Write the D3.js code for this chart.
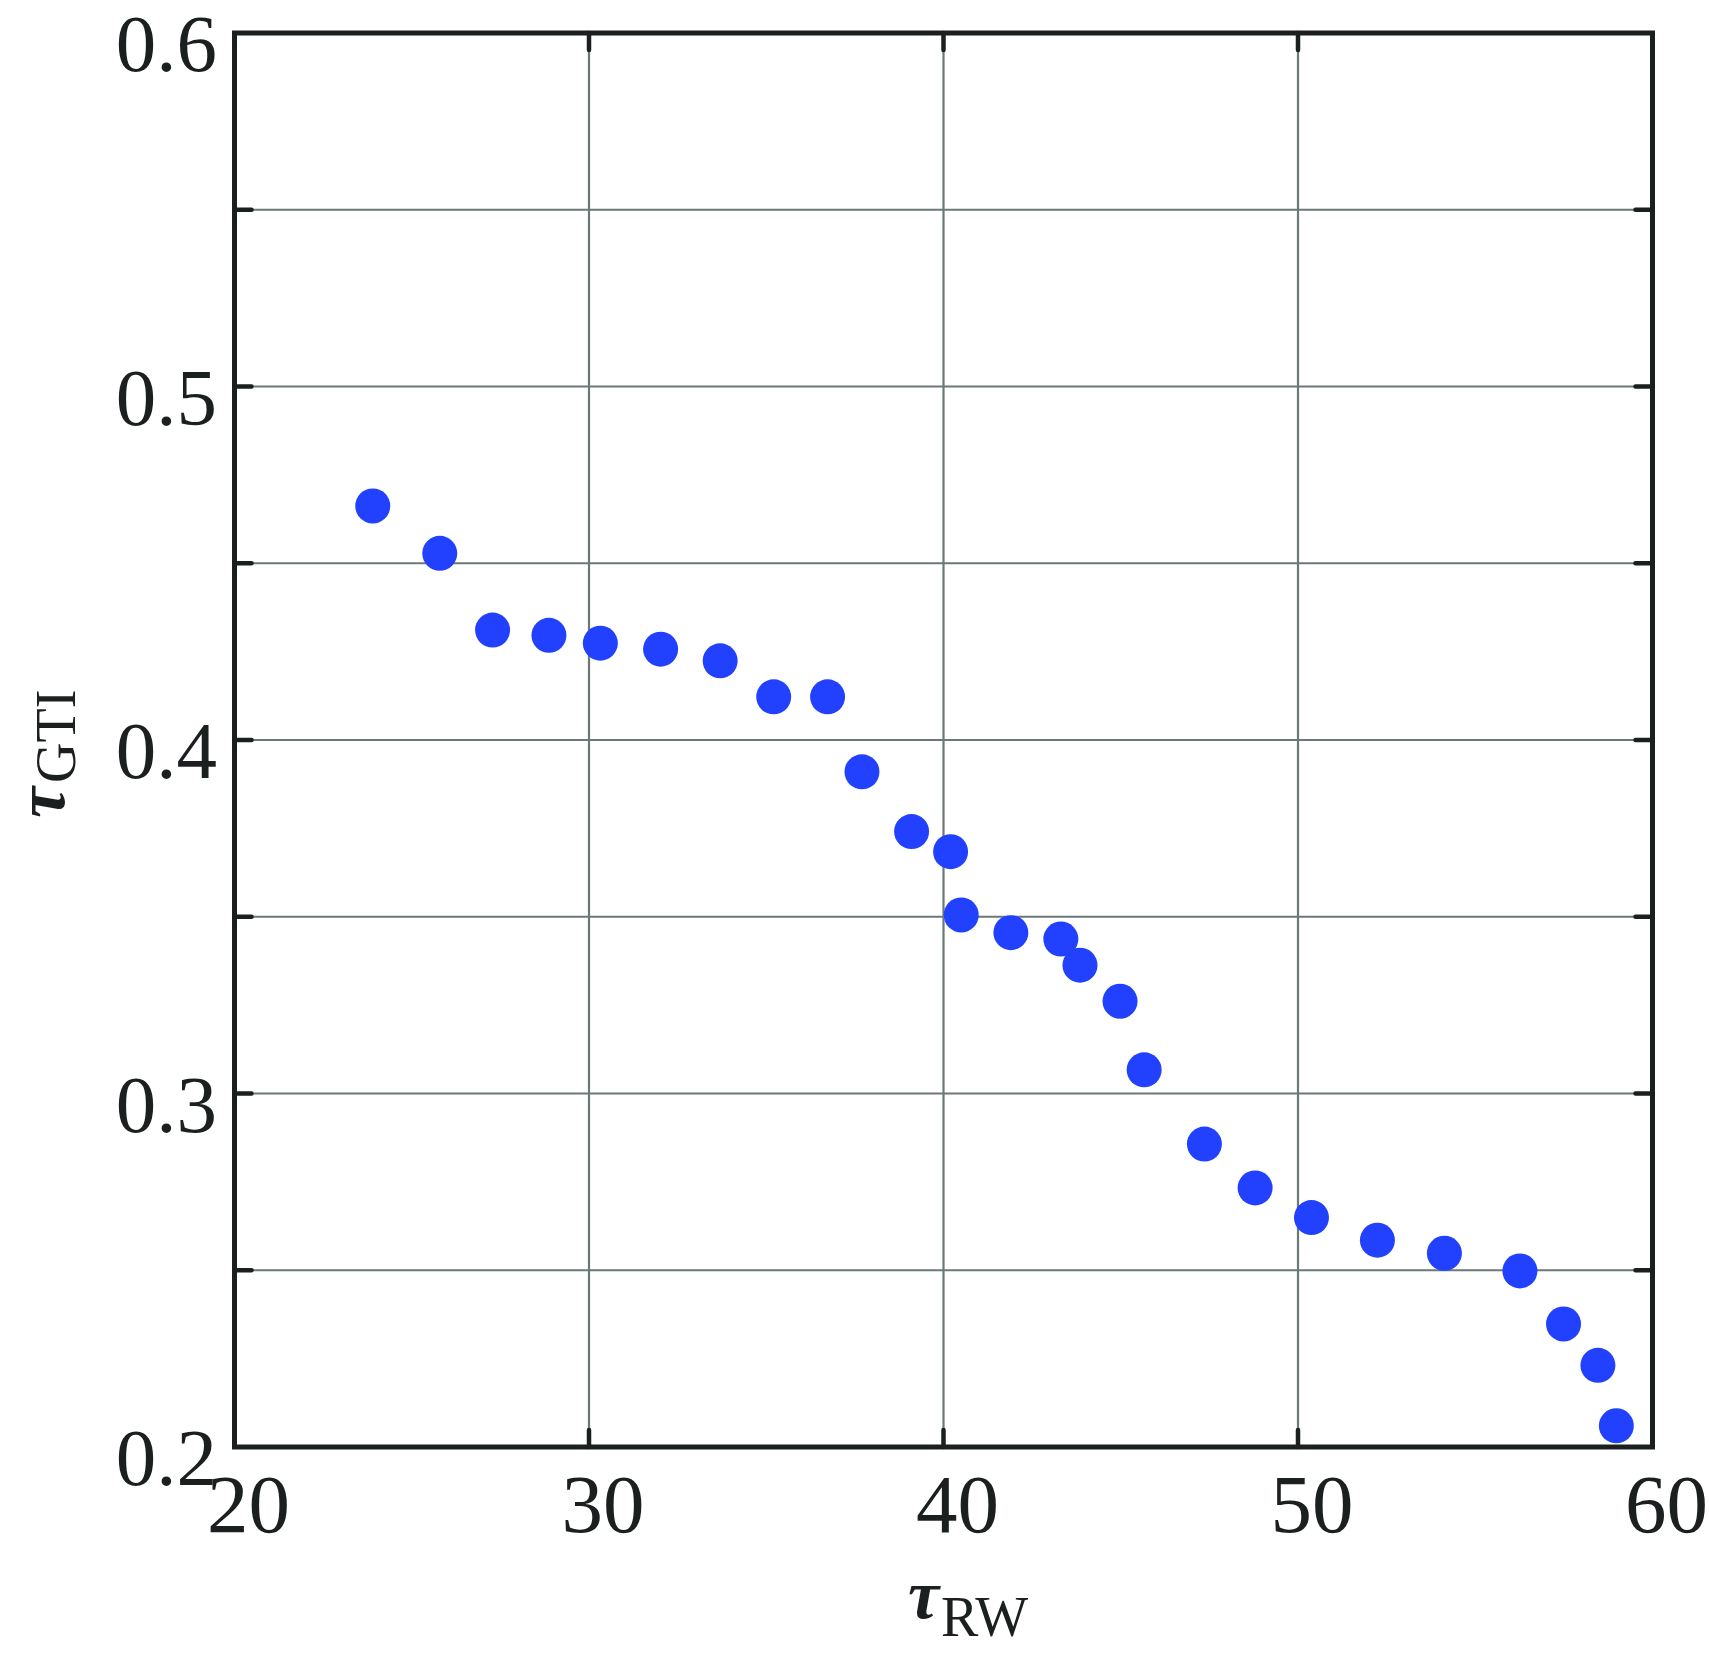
<!DOCTYPE html>
<html>
<head>
<meta charset="utf-8">
<script src="https://cdn.jsdelivr.net/npm/d3@7"></script>
<style>
  html, body { margin: 0; padding: 0; background: #ffffff; }
  svg { display: block; }
</style>
</head>
<body>
<svg id="chart" width="1709" height="1658"></svg>
<script>
// ---- data ----
const tauRW = [23.90, 25.79, 27.28, 28.87, 30.32, 32.02, 33.70, 35.21, 36.73, 37.70,
               39.10, 40.20, 40.50, 41.90, 43.31, 43.85, 44.98, 45.66, 47.36, 48.79,
               50.38, 52.24, 54.13, 56.26, 57.49, 58.46, 58.98];
const tauGTI = [0.4662, 0.4528, 0.4311, 0.4296, 0.4274, 0.4257, 0.4224, 0.4122, 0.4122, 0.3910,
                0.3741, 0.3684, 0.3505, 0.3455, 0.3437, 0.3363, 0.3261, 0.3067, 0.2857, 0.2733,
                0.2649, 0.2585, 0.2548, 0.2498, 0.2348, 0.2231, 0.2060];
const xTickValues = [20, 30, 40, 50, 60];
const xGridValues = [30, 40, 50];
const yTickLabelValues = [0.2, 0.3, 0.4, 0.5, 0.6];
const yTickValues = [0.25, 0.3, 0.35, 0.4, 0.45, 0.5, 0.55];
const xDomain = [20, 60];
const yDomain = [0.2, 0.6];

// ---- layout ----
const L = 234.5, R = 1652.5, T = 33, B = 1447;
const x = d3.scaleLinear().domain(xDomain).range([L, R]);
const y = d3.scaleLinear().domain(yDomain).range([B, T]);

const svg = d3.select("#chart");
const font = "'Liberation Serif', 'Times New Roman', serif";
const ink = "#1b1f1f";
const gridColor = "#6c7878";

// gridlines
const g = svg.append("g");
g.selectAll("line.gy").data(yTickValues).join("line")
  .attr("x1", L).attr("x2", R)
  .attr("y1", d => y(d)).attr("y2", d => y(d))
  .attr("stroke", gridColor).attr("stroke-width", 2.2);
g.selectAll("line.gx").data(xGridValues).join("line")
  .attr("x1", d => x(d)).attr("x2", d => x(d))
  .attr("y1", T).attr("y2", B)
  .attr("stroke", gridColor).attr("stroke-width", 2.2);

// inner ticks (left, right, bottom, top)
const tickLen = 17;
const tk = svg.append("g").attr("stroke", ink).attr("stroke-width", 4.5).attr("stroke-linecap", "round");
tk.selectAll("line.tl").data(yTickValues).join("line")
  .attr("x1", L).attr("x2", L + tickLen).attr("y1", d => y(d)).attr("y2", d => y(d));
tk.selectAll("line.tr").data(yTickValues).join("line")
  .attr("x1", R).attr("x2", R - tickLen).attr("y1", d => y(d)).attr("y2", d => y(d));
tk.selectAll("line.tb").data(xGridValues).join("line")
  .attr("x1", d => x(d)).attr("x2", d => x(d)).attr("y1", B).attr("y2", B - tickLen);
tk.selectAll("line.tt").data(xGridValues).join("line")
  .attr("x1", d => x(d)).attr("x2", d => x(d)).attr("y1", T).attr("y2", T + tickLen);

// points
svg.append("g").selectAll("circle").data(tauRW.map((v, i) => [v, tauGTI[i]])).join("circle")
  .attr("cx", d => x(d[0])).attr("cy", d => y(d[1]))
  .attr("r", 17.5).attr("fill", "#2241ff");

// frame
svg.append("rect").attr("x", L).attr("y", T).attr("width", R - L).attr("height", B - T)
  .attr("fill", "none").attr("stroke", ink).attr("stroke-width", 5);

// tick labels
svg.append("g").selectAll("text").data(yTickLabelValues).join("text")
  .attr("x", 217).attr("y", d => y(d) + 38)
  .attr("text-anchor", "end").attr("font-family", font).attr("font-size", 81).attr("fill", ink)
  .text(d => d3.format(".1f")(d));
svg.append("g").selectAll("text").data(xTickValues).join("text")
  .attr("x", d => x(d) + 14).attr("y", 1532)
  .attr("text-anchor", "middle").attr("font-family", font).attr("font-size", 83).attr("fill", ink)
  .text(d => d);

// axis titles
const xt = svg.append("text").attr("x", 908).attr("y", 1618)
  .attr("font-family", font).attr("fill", ink);
xt.append("tspan").attr("font-size", 70).attr("font-style", "italic").attr("font-weight", "bold").text("τ");
xt.append("tspan").attr("font-size", 56).attr("dy", 18).attr("dx", 2).text("RW");

const yt = svg.append("text").attr("transform", "translate(64,818) rotate(-90)")
  .attr("font-family", font).attr("fill", ink);
yt.append("tspan").attr("font-size", 70).attr("font-style", "italic").attr("font-weight", "bold").text("τ");
yt.append("tspan").attr("font-size", 56).attr("dy", 11).attr("dx", 4).text("GTI");
</script>
</body>
</html>
